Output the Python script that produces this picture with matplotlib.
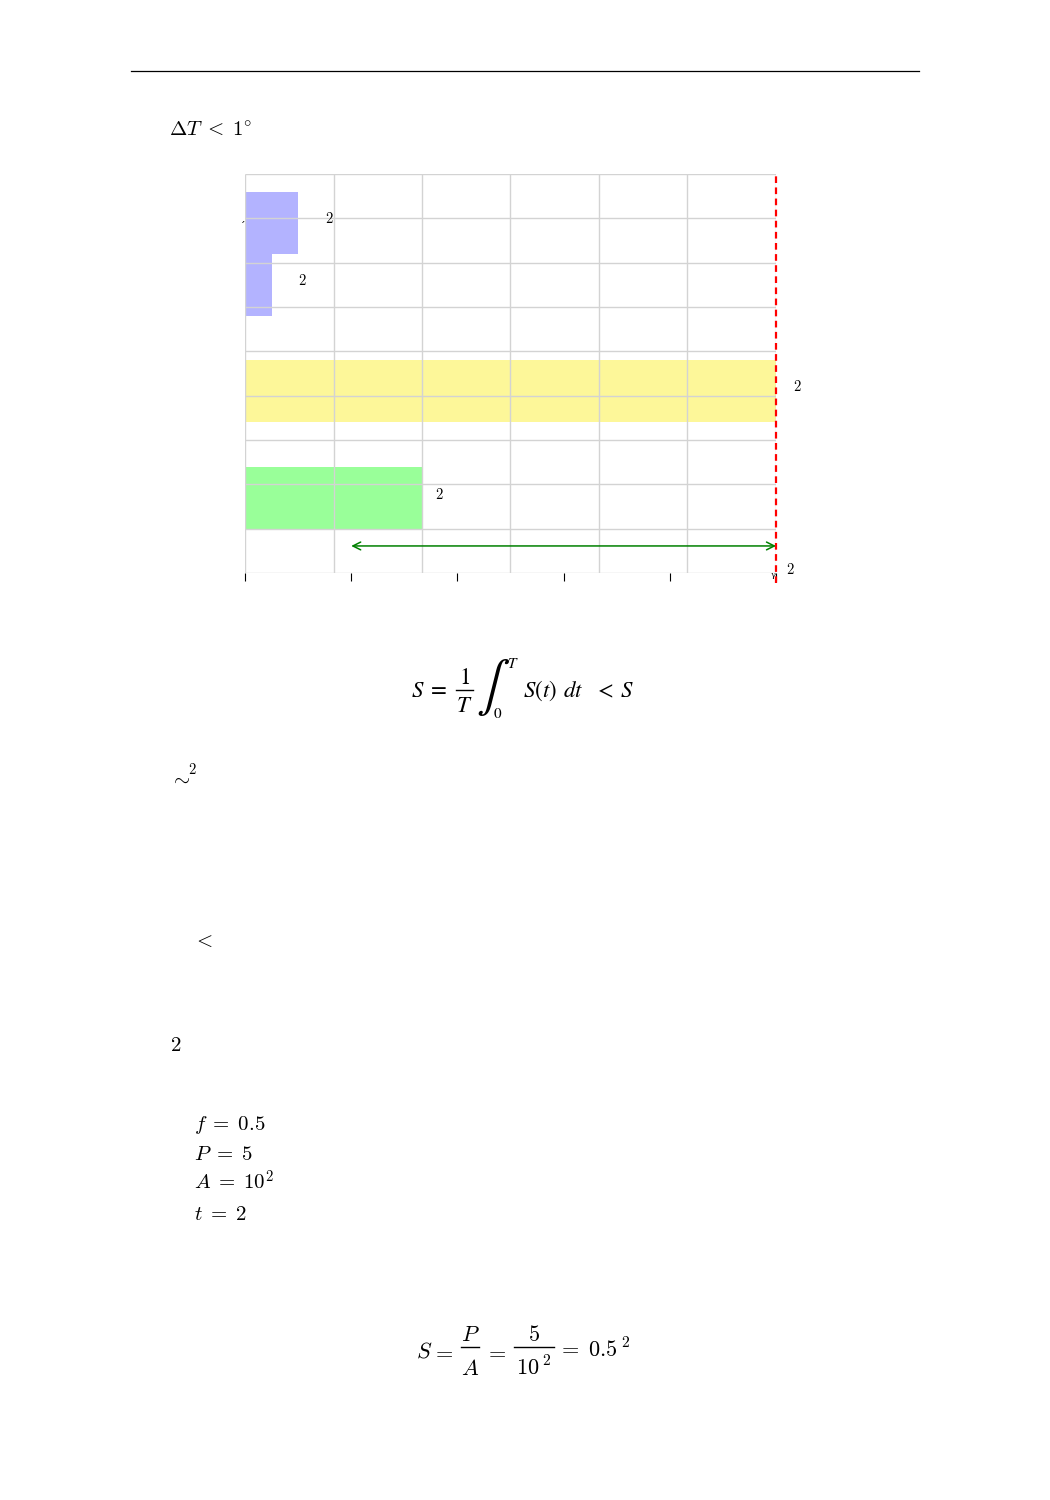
import matplotlib
matplotlib.use("Agg")
import matplotlib.pyplot as plt

W, H = 1050, 1500

# bar data (y centre, length)
bar_y = [7.9, 6.5, 4.1, 1.7]
bar_len = [3, 1.5, 30, 10]
bar_colors = ['#b3b3ff', '#b3b3ff', '#fdf799', '#99ff99']
bar_labels = ['2', '2', '2', '2']
label_x = [4.75, 3.25, 31.2, 11.0]
label_y = [7.99, 6.59, 4.2, 1.78]

x_ticks = [0, 6, 12, 18, 24, 30]
x_grid = [0, 5, 10, 15, 20, 25, 30]
y_grid = [0, 1, 2, 3, 4, 5, 6, 7, 8, 9]
limit_x = 30
arrow_from, arrow_to, arrow_y = 6, 30, 0.61

plt.rcParams['mathtext.fontset'] = 'cm'
plt.rcParams['font.family'] = ['DejaVu Serif', 'DejaVu Sans']

fig = plt.figure(figsize=(W / 100, H / 100), dpi=100)


def px(x, y):
    return x / W, 1 - y / H


def put(x, y, s, size, **kw):
    fig.text(*px(x, y), s, fontsize=size, va=kw.pop('va', 'baseline'), **kw)


def frac(x0, x1, bar, num, num_base, den, den_base, size, **kw):
    xc = (x0 + x1) / 2
    put(xc, num_base, num, size, ha='center', **kw)
    put(xc, den_base, den, size, ha='center', **kw)
    fig.add_artist(plt.Line2D([x0 / W, x1 / W], [1 - bar / H] * 2, color='black', lw=1.0))


# top rule
fig.add_artist(plt.Line2D([131 / W, 919 / W], [1 - 71 / H, 1 - 71 / H], color='black', lw=0.9))

# chart
ax = fig.add_axes([245 / W, 1 - 573 / H, 531 / W, 399 / H])
ax.set_xlim(0, 30)
ax.set_ylim(0, 9)
ax.barh(bar_y, bar_len, height=1.4, color=bar_colors, zorder=1)
ax.vlines(x_grid, 0, 9, color='#d3d3d3', lw=1, zorder=2)
ax.hlines(y_grid, 0, 30, color='#d3d3d3', lw=1, zorder=2)
for lx, ly, t in zip(label_x, label_y, bar_labels):
    ax.text(lx, ly, '$' + t + '$', fontsize=10.5, ha='center', va='center', clip_on=False)
ax.text(30.8, 0.09, '$2$', fontsize=10.5, ha='center', va='center', clip_on=False)
ax.text(-0.1, 8.0, 'ˏ', fontsize=8, ha='center', va='center', clip_on=False,
        family=['DejaVu Sans'])
ax.text(29.85, -0.05, 'γ', fontsize=6, ha='center', va='center', clip_on=False)

ax.plot([limit_x, limit_x], [-0.22, 9], color='red', ls=(0, (3, 2)), lw=1.6, clip_on=False, zorder=4)
ax.annotate('', xy=(arrow_to, arrow_y), xytext=(arrow_from, arrow_y),
            arrowprops=dict(arrowstyle='<->', color='green', lw=1.1, shrinkA=0, shrinkB=0,
                            mutation_scale=14), zorder=5)

ax.set_xticks(x_ticks)
ax.set_yticks([])
ax.tick_params(axis='x', direction='out', length=6, width=0.8, labelbottom=False)
for s in ax.spines.values():
    s.set_visible(False)

# page text
fs = 15
put(169, 137, r'$\Delta T\;<\;1^{\circ}$', fs)

# S = 1/T \int_0^T S(t) dt < S  (display style, built from pieces)
st = dict(math_fontfamily='stix')
put(411, 697, r'$S\;=$', 16.5, **st)
frac(456, 473, 690, r'$1$', 684, r'$T$', 712, 16.5, **st)
put(476, 688, r'$\int$', 36, va='center', **st)
put(507, 668, r'$T$', 11, **st)
put(493, 718, r'$0$', 11, **st)
put(523, 697, r'$S(t)\;\,dt$', 16.5, **st)
put(594, 697, r'$<\;S$', 16.5, **st)

put(170, 785, r'$\sim$', fs)
put(188, 774, r'$2$', 10.5)
put(193, 947, r'$<$', fs)
put(170, 1051, r'$2$', fs)

items = [r'$f\;=\;0.5$', r'$P\;=\;5$', r'$A\;=\;10^{2}$', r'$t\;=\;2$']
baselines = [1130, 1160, 1190, 1220]
for t, b in zip(items, baselines):
    put(194, b, t, fs)

# S = P/A = 5/10^2 = 0.5^2
put(416, 1358, r'$S$', 16)
put(432, 1358, r'$=$', 16)
frac(461, 479, 1347, r'$P$', 1341, r'$A$', 1375, 16)
put(485, 1358, r'$=$', 16)
frac(514, 554, 1347, r'$5$', 1341, r'$10\,^{2}$', 1375, 16)
put(558, 1358, r'$=\;0.5\,^{2}$', 16)

fig.savefig('out.png', dpi=100)
